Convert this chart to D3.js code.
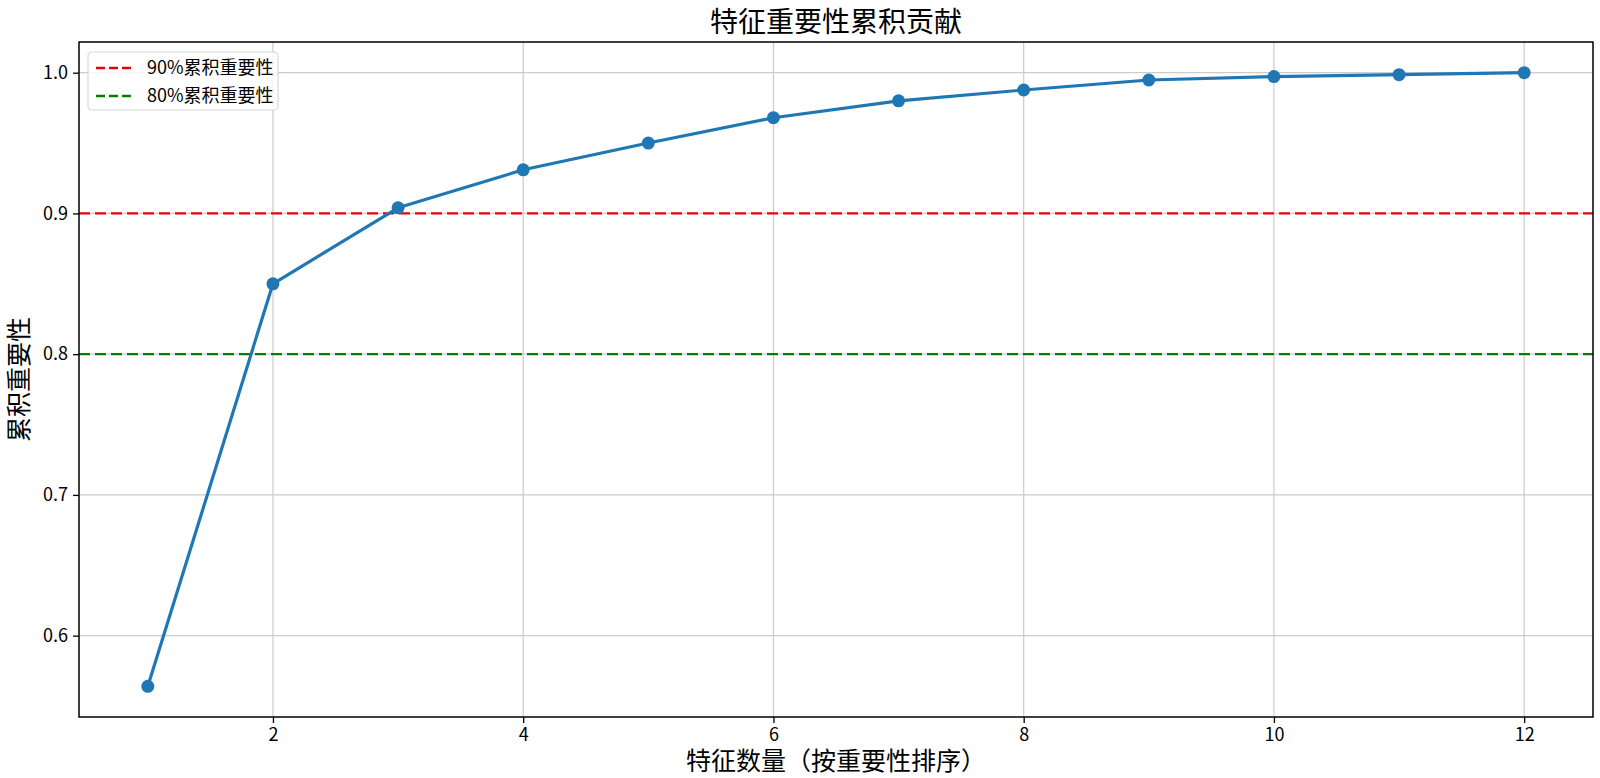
<!DOCTYPE html>
<html lang="zh">
<head>
<meta charset="UTF-8">
<title>特征重要性累积贡献</title>
<script src="https://d3js.org/d3.v7.min.js"></script>
<style>
  body { margin: 0; background: #fff; }
  svg { display: block; }
  text { font-family: "Noto Sans CJK SC", "DejaVu Sans", sans-serif; fill: #000; }
  .grid line { stroke: #cccccc; stroke-width: 1.2px; }
  .axis path, .axis line { stroke: #000; }
</style>
</head>
<body>
<svg id="chart" width="1600" height="778"></svg>
<script>
// data
const featureCounts = [1, 2, 3, 4, 5, 6, 7, 8, 9, 10, 11, 12];
const cumImportance = [0.564, 0.850, 0.904, 0.931, 0.950, 0.968, 0.980, 0.9877, 0.9948, 0.9972, 0.9986, 1.0];
const xTicks = [2, 4, 6, 8, 10, 12];
const yTicks = [0.6, 0.7, 0.8, 0.9, 1.0];
const thresholds = [
  { value: 0.9, label: "90%累积重要性", color: "#e8000b" },
  { value: 0.8, label: "80%累积重要性", color: "#008000" }
];

const svg = d3.select("#chart");
const margin = { left: 79, right: 7, top: 42, bottom: 61 };
const W = 1600, H = 778;
const iw = W - margin.left - margin.right;
const ih = H - margin.top - margin.bottom;

// matplotlib-style 5% margins
const xr = d3.extent(featureCounts), yr = d3.extent(cumImportance);
const xpad = (xr[1] - xr[0]) * 0.05, ypad = (yr[1] - yr[0]) * 0.05;
const x = d3.scaleLinear().domain([xr[0] - xpad, xr[1] + xpad]).range([0, iw]);
const y = d3.scaleLinear().domain([yr[0] - ypad, yr[1] + ypad]).range([ih, 0]);

const g = svg.append("g").attr("transform", `translate(${margin.left},${margin.top})`);

// grid
g.append("g").attr("class", "grid")
  .selectAll("line.vx").data(xTicks).enter().append("line")
  .attr("x1", d => x(d)).attr("x2", d => x(d)).attr("y1", 0).attr("y2", ih);
g.append("g").attr("class", "grid")
  .selectAll("line.hy").data(yTicks).enter().append("line")
  .attr("x1", 0).attr("x2", iw).attr("y1", d => y(d)).attr("y2", d => y(d));

// threshold lines
g.selectAll("line.thr").data(thresholds).enter().append("line")
  .attr("class", "thr")
  .attr("x1", 0).attr("x2", iw)
  .attr("y1", d => y(d.value)).attr("y2", d => y(d.value))
  .attr("stroke", d => d.color)
  .attr("stroke-width", 2.3)
  .attr("stroke-dasharray", "11,5");

// main line
const line = d3.line().x((d, i) => x(featureCounts[i])).y(d => y(d));
g.append("path").datum(cumImportance)
  .attr("fill", "none").attr("stroke", "#1f77b4")
  .attr("stroke-width", 3.2).attr("stroke-linejoin", "round")
  .attr("d", line);
g.selectAll("circle.pt").data(cumImportance).enter().append("circle")
  .attr("class", "pt")
  .attr("cx", (d, i) => x(featureCounts[i])).attr("cy", d => y(d))
  .attr("r", 6.5).attr("fill", "#1f77b4");

// axes
const xAxis = g.append("g").attr("class", "axis").attr("transform", `translate(0,${ih})`)
  .call(d3.axisBottom(x).tickValues(xTicks).tickSize(6).tickPadding(5).tickFormat(d3.format("d")));
const yAxis = g.append("g").attr("class", "axis")
  .call(d3.axisLeft(y).tickValues(yTicks).tickSize(6).tickPadding(5).tickFormat(d3.format(".1f")));
[xAxis, yAxis].forEach(a => {
  a.select(".domain").remove();
  a.selectAll(".tick line").attr("stroke-width", 1.3);
  a.selectAll(".tick text").style("font-size", "18px").attr("fill", "#000");
});
xAxis.selectAll(".tick text").attr("dy", "0.72em");

// frame
g.append("rect").attr("width", iw).attr("height", ih)
  .attr("fill", "none").attr("stroke", "#000").attr("stroke-width", 1.5);

// legend
const lg = g.append("g").attr("transform", "translate(9,10)");
lg.append("rect").attr("width", 190).attr("height", 58).attr("rx", 4)
  .attr("fill", "#fff").attr("fill-opacity", 0.8)
  .attr("stroke", "#d8d8d8").attr("stroke-width", 1.2);
const items = lg.selectAll("g.item").data(thresholds).enter().append("g")
  .attr("class", "item")
  .attr("transform", (d, i) => `translate(0,${16 + i * 28})`);
items.append("line").attr("x1", 8).attr("x2", 45).attr("y1", 0).attr("y2", 0)
  .attr("stroke", d => d.color).attr("stroke-width", 2.3).attr("stroke-dasharray", "9,4");
items.append("text").attr("x", 59).attr("y", 0).attr("dy", "0.35em")
  .style("font-size", "18px").text(d => d.label);

// titles
svg.append("text").attr("x", margin.left + iw / 2).attr("y", 22).attr("dy", "0.35em")
  .attr("text-anchor", "middle").style("font-size", "28px").text("特征重要性累积贡献");
svg.append("text").attr("x", margin.left + iw / 2).attr("y", 761).attr("dy", "0.35em")
  .attr("text-anchor", "middle").style("font-size", "25px").text("特征数量（按重要性排序）");
svg.append("text").attr("transform", `translate(19,${margin.top + ih / 2}) rotate(-90)`)
  .attr("dy", "0.35em").attr("text-anchor", "middle").style("font-size", "25px").text("累积重要性");
</script>
</body>
</html>
